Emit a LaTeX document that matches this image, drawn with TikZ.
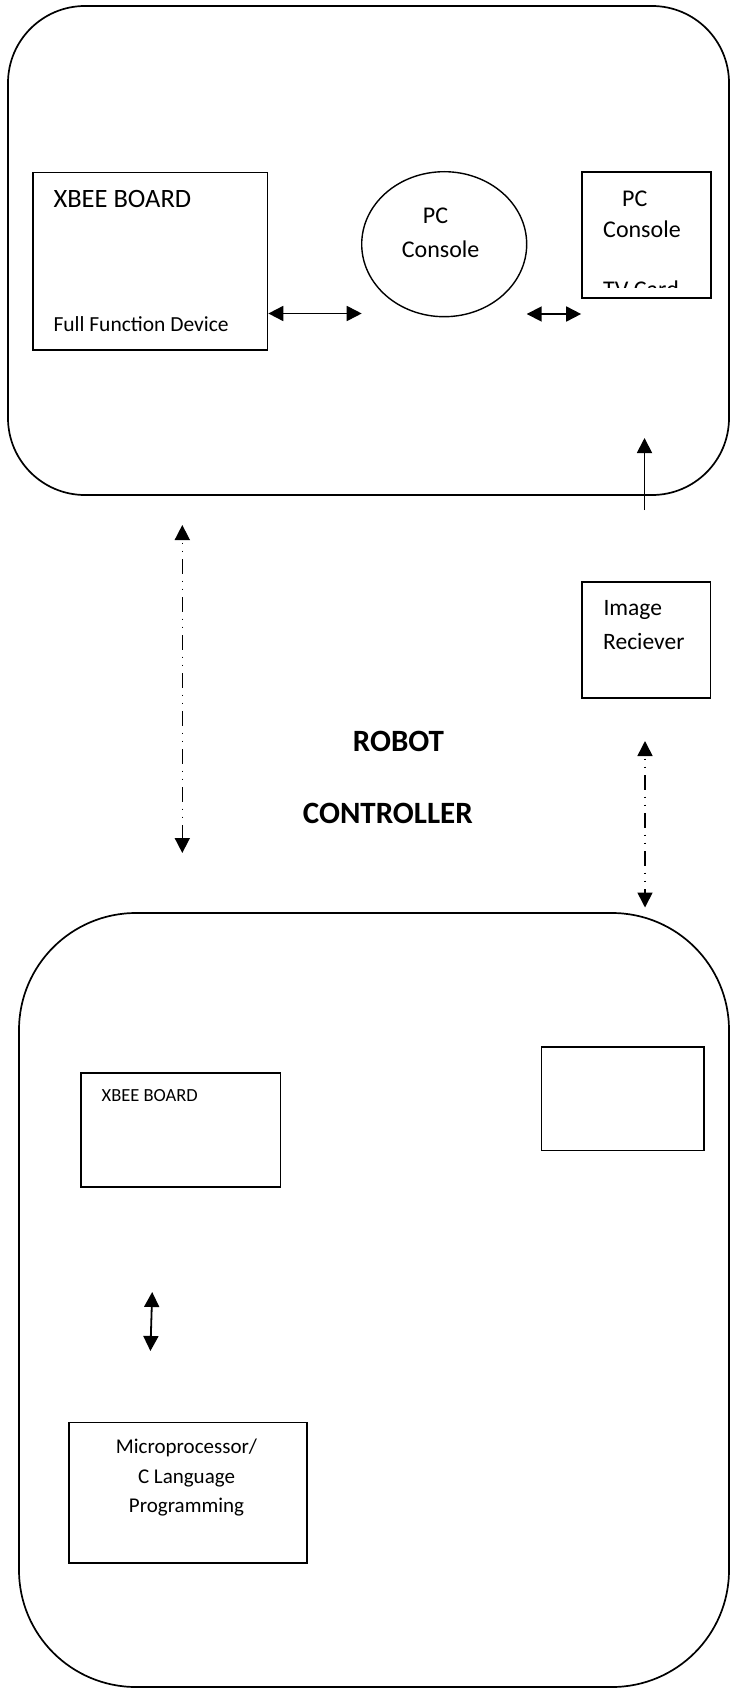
\documentclass[tikz,border=0pt]{standalone}
\usepackage{fontspec}
\setmainfont{Carlito}
\usetikzlibrary{arrows.meta,shapes.geometric}
\begin{document}
\begin{tikzpicture}[x=1pt,y=-1pt,
  blk/.style={draw,rectangle,line width=1.7pt,inner sep=0pt},
  panel/.style={draw,line width=1.7pt},
  txt/.style={inner sep=0pt,anchor=base west},
  dbl/.style={line width=1.8pt,{Triangle[length=15pt,width=15pt]}-{Triangle[length=15pt,width=15pt]}},
  sgl/.style={line width=1.8pt,-{Triangle[length=15pt,width=15pt]}},
  dashdot/.style={dbl,line width=1.6pt,dash pattern=on 1.5pt off 6.5pt on 1.5pt off 7pt on 15pt off 6.5pt,dash phase=35pt}]
\useasboundingbox (0,0) rectangle (730,1688);
% panels
\draw[panel,rounded corners=77pt] (8,6) rectangle (729,495);
\draw[panel,rounded corners=117pt] (19,913) rectangle (729,1687);
% top panel nodes
\node[blk,minimum width=234.5pt,minimum height=177.5pt] (xbeeA) at (150.25,261.25) {};
\node[draw,ellipse,line width=1.4pt,inner sep=0pt,minimum width=165pt,minimum height=145pt] (pcell) at (444.2,244.2) {};
\node[blk,minimum width=129pt,minimum height=126pt] (pcbox) at (646.5,235) {};
\node[txt,font=\fontsize{26.5}{30}\selectfont] (t1) at (53.3,207.3) {XBEE BOARD};
\node[txt,font=\fontsize{21.5}{26}\selectfont] (t2) at (53.3,331.7) {Full Function Device};
\node[txt,font=\fontsize{24}{28}\selectfont] (t3) at (422.7,224) {PC};
\node[txt,font=\fontsize{24}{28}\selectfont] (t4) at (401.7,257.3) {Console};
\node[txt,font=\fontsize{24}{28}\selectfont] (t5) at (622,207) {PC};
\node[txt,font=\fontsize{24}{28}\selectfont] (t6) at (603,238) {Console};
\begin{scope}
  \clip (582,172) rectangle (711,287);
  \node[txt,font=\fontsize{24}{28}\selectfont] (t7) at (603,297.5) {TV Card};
\end{scope}
% image receiver
\node[blk,minimum width=128.8pt,minimum height=116pt] (imgbox) at (646.1,639.7) {};
\node[txt,font=\fontsize{23.5}{28}\selectfont] (t8) at (603.3,615) {Image};
\node[txt,font=\fontsize{23.5}{28}\selectfont] (t9) at (603,649) {Reciever};
% centre title
\node[txt,font=\fontsize{31}{36}\selectfont\bfseries] (t10) at (352.7,751) {ROBOT};
\node[txt,font=\fontsize{31}{36}\selectfont\bfseries] (t11) at (302.7,823.3) {CONTROLLER};
% bottom panel nodes
\node[blk,minimum width=199.7pt,minimum height=114.2pt] (xbeeB) at (180.65,1129.9) {};
\node[txt,font=\fontsize{18.5}{22}\selectfont] (t12) at (101.5,1101) {XBEE BOARD};
\node[blk,minimum width=162.5pt,minimum height=103.5pt] (emptybox) at (622.75,1098.75) {};
\node[blk,minimum width=237.7pt,minimum height=140.5pt] (micro) at (187.85,1492.75) {};
\node[inner sep=0pt,anchor=base,font=\fontsize{21}{25}\selectfont] (t13) at (186.5,1453.3) {Microprocessor/};
\node[inner sep=0pt,anchor=base,font=\fontsize{21}{25}\selectfont] (t14) at (186.5,1483.3) {C Language};
\node[inner sep=0pt,anchor=base,font=\fontsize{21}{25}\selectfont] (t15) at (186.5,1512.3) {Programming};
% connector end points
\coordinate (a1e) at (361.7,313.5);
\coordinate (a2s) at (526.7,314);
\coordinate (upS) at (644.5,510);
\coordinate (upE) at (644.5,438);
\coordinate (lTop) at (182.3,525);
\coordinate (lBot) at (182.3,853);
\coordinate (rTop) at (645,741);
\coordinate (rBot) at (645,907.5);
\coordinate (sTop) at (152.2,1292);
\coordinate (sBot) at (150.4,1351);
% connectors
\draw[dbl] (xbeeA.east |- a1e) -- (a1e);
\draw[dbl] (a2s) -- (pcbox.west |- a2s);
\draw[sgl] (upS) -- (upE);
\draw[dashdot] (lTop) -- (lBot);
\draw[dashdot] (rTop) -- (rBot);
\draw[dbl] (sTop) -- (sBot);
\end{tikzpicture}
\end{document}
